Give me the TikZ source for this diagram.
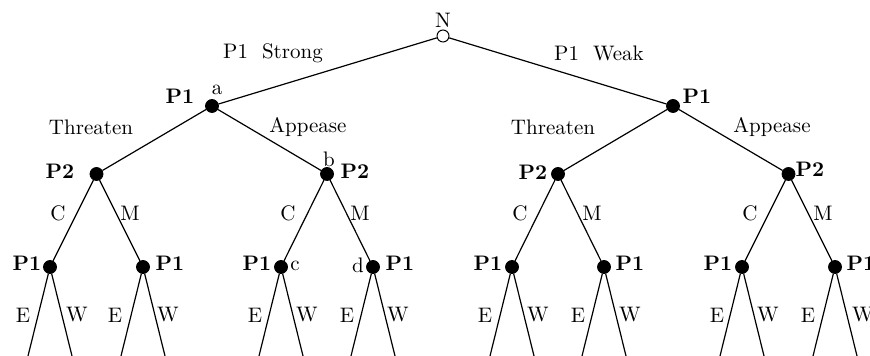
\documentclass[tikz,border=0pt]{standalone}
\usetikzlibrary{positioning}
\tikzset{
  dot/.style={circle, fill=black, draw=black, inner sep=0pt, minimum size=6.5pt},
  chance/.style={circle, fill=white, draw=black, line width=0.5pt, inner sep=0pt, minimum size=6pt},
  pl/.style={font=\fontsize{10.5}{12}\selectfont\bfseries, inner sep=1pt},
  lbl/.style={font=\fontsize{10.5}{12}\selectfont, inner sep=1pt},
  branch/.style={draw=black, line width=0.6pt},
}

\begin{document}
\begin{tikzpicture}[x=0.5pt, y=-0.5pt]
\useasboundingbox (0,0) rectangle (870,356);
\clip (0,0) rectangle (870,356);

% decision nodes
\node[chance] (n) at (443,36) {};
\node[dot] (a) at (212,106) {};
\node[dot] (w) at (673,106) {};
\node[dot] (b1) at (96.5,174) {};
\node[dot] (b) at (327,174) {};
\node[dot] (b3) at (558,174) {};
\node[dot] (b4) at (788.5,174) {};
\node[dot] (c1) at (50,267) {};
\node[dot] (c2) at (143,267) {};
\node[dot] (c) at (281,267) {};
\node[dot] (d) at (373,267) {};
\node[dot] (c5) at (512,267) {};
\node[dot] (c6) at (604,267) {};
\node[dot] (c7) at (742,267) {};
\node[dot] (c8) at (835,267) {};

% leaves (run off the bottom)
\coordinate (e1) at (28,356);  \coordinate (f1) at (72,356);
\coordinate (e2) at (121,356); \coordinate (f2) at (165,356);
\coordinate (e3) at (259,356); \coordinate (f3) at (303,356);
\coordinate (e4) at (351,356); \coordinate (f4) at (395,356);
\coordinate (e5) at (490,356); \coordinate (f5) at (534,356);
\coordinate (e6) at (582,356); \coordinate (f6) at (626,356);
\coordinate (e7) at (720,356); \coordinate (f7) at (764,356);
\coordinate (e8) at (813,356); \coordinate (f8) at (857,356);

% branches
\draw[branch] (n) -- (a);
\draw[branch] (n) -- (w);
\draw[branch] (a) -- (b1);
\draw[branch] (a) -- (b);
\draw[branch] (w) -- (b3);
\draw[branch] (w) -- (b4);
\draw[branch] (b1) -- (c1);
\draw[branch] (b1) -- (c2);
\draw[branch] (b) -- (c);
\draw[branch] (b) -- (d);
\draw[branch] (b3) -- (c5);
\draw[branch] (b3) -- (c6);
\draw[branch] (b4) -- (c7);
\draw[branch] (b4) -- (c8);
\draw[branch] (c1) -- (e1); \draw[branch] (c1) -- (f1);
\draw[branch] (c2) -- (e2); \draw[branch] (c2) -- (f2);
\draw[branch] (c) -- (e3);  \draw[branch] (c) -- (f3);
\draw[branch] (d) -- (e4);  \draw[branch] (d) -- (f4);
\draw[branch] (c5) -- (e5); \draw[branch] (c5) -- (f5);
\draw[branch] (c6) -- (e6); \draw[branch] (c6) -- (f6);
\draw[branch] (c7) -- (e7); \draw[branch] (c7) -- (f7);
\draw[branch] (c8) -- (e8); \draw[branch] (c8) -- (f8);

% players
\node[lbl, above=0pt of n] (nlab) {N};
\node[pl] (pa) at (180,96) {P1};
\node[lbl] (alab) at (217,90) {a};
\node[pl] (pw) at (697,96) {P1};
\node[pl] (pb1) at (60,171) {P2};
\node[lbl] (blab) at (329,159) {b};
\node[pl] (pb) at (355,171) {P2};
\node[pl] (pb3) at (533,172) {P2};
\node[pl] (pb4) at (810,169) {P2};
\node[pl] (pc1) at (27,263) {P1};
\node[pl] (pc2) at (170,263) {P1};
\node[pl] (pc) at (257,263) {P1};
\node[lbl] (clab) at (295,266) {c};
\node[lbl] (dlab) at (358,265) {d};
\node[pl] (pd) at (400,263) {P1};
\node[pl] (pc5) at (488,263) {P1};
\node[pl] (pc6) at (630,263) {P1};
\node[pl] (pc7) at (718,263) {P1};
\node[pl] (pc8) at (861,263) {P1};

% moves
\node[lbl] (strong) at (273,53) {P1\ \ Strong};
\node[lbl] (weak) at (599,53) {P1\ \ Weak};
\node[lbl] (t1) at (91,127) {Threaten};
\node[lbl] (a1) at (308,127) {Appease};
\node[lbl] (t2) at (553,127) {Threaten};
\node[lbl] (a2) at (772,127) {Appease};
\node[lbl] (cc1) at (58,213) {C};  \node[lbl] (mm1) at (130,213) {M};
\node[lbl] (cc2) at (288,213) {C}; \node[lbl] (mm2) at (360,213) {M};
\node[lbl] (cc3) at (520,213) {C}; \node[lbl] (mm3) at (592,213) {M};
\node[lbl] (cc4) at (750,213) {C}; \node[lbl] (mm4) at (823,213) {M};
\node[lbl] (ee1) at (23,315) {E};  \node[lbl] (ww1) at (77,315) {W};
\node[lbl] (ee2) at (115,315) {E}; \node[lbl] (ww2) at (168,315) {W};
\node[lbl] (ee3) at (255,315) {E}; \node[lbl] (ww3) at (307,315) {W};
\node[lbl] (ee4) at (347,315) {E}; \node[lbl] (ww4) at (398,315) {W};
\node[lbl] (ee5) at (485,315) {E}; \node[lbl] (ww5) at (538,315) {W};
\node[lbl] (ee6) at (578,315) {E}; \node[lbl] (ww6) at (630,315) {W};
\node[lbl] (ee7) at (717,315) {E}; \node[lbl] (ww7) at (768,315) {W};
\node[lbl] (ee8) at (808,315) {E}; \node[lbl] (ww8) at (863,315) {W};
\end{tikzpicture}
\end{document}
